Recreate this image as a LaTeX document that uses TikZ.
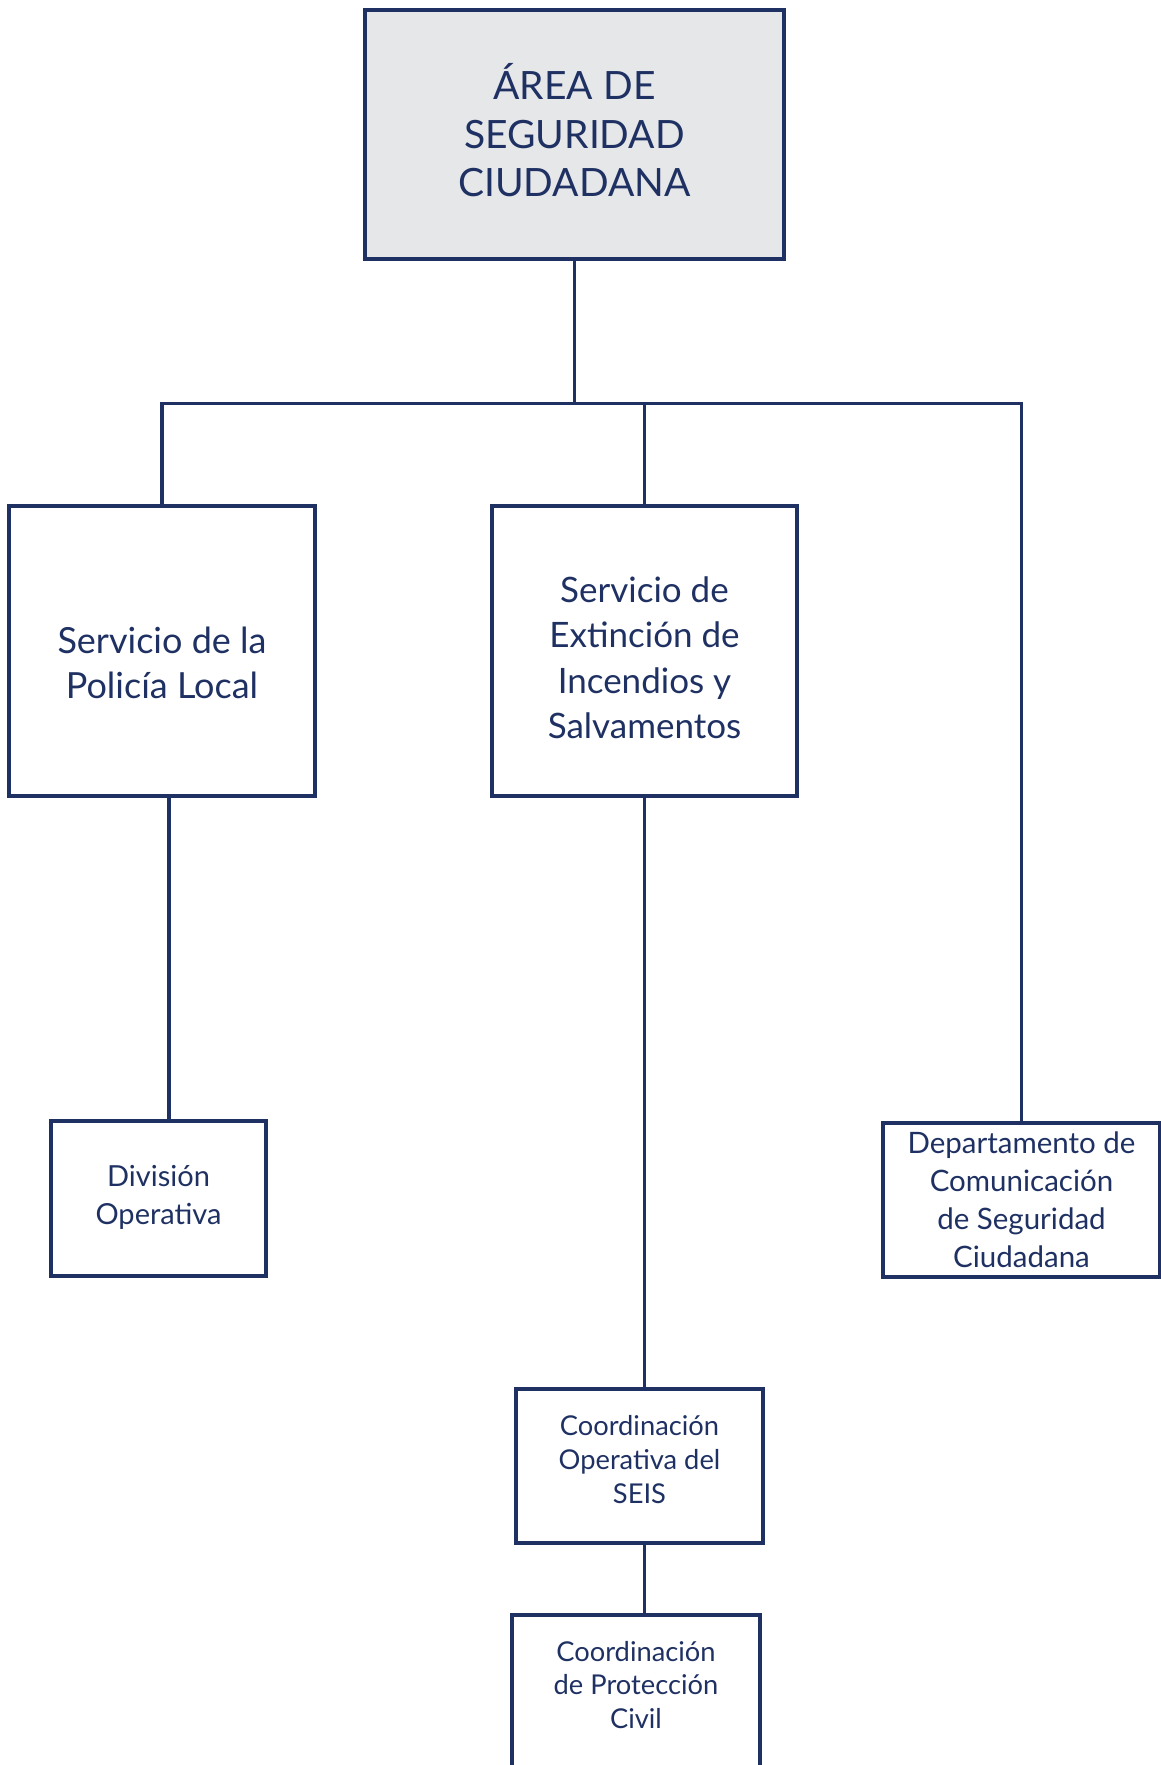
\documentclass[tikz,border=0pt]{standalone}
\usepackage{fontspec}
\setmainfont{Lato}
\usepackage{tikz}
\usetikzlibrary{positioning, calc}
\definecolor{NavyLine}{RGB}{31, 49, 99}
\definecolor{HeadGray}{RGB}{230, 231, 233}

\begin{document}
\begin{tikzpicture}[x=1pt, y=-1pt, line width=3.4pt,
    unitbox/.style={draw=NavyLine, rectangle, align=center, text=NavyLine, inner sep=0pt},
    conn/.style={draw=NavyLine, line width=3.4pt}]
    \useasboundingbox (0,0) rectangle (1161,1765);
    \clip (0,0) rectangle (1161,1765);

    % Head of area
    \node[unitbox, fill=HeadGray, minimum width=419pt, minimum height=249pt,
          text height=134.4pt, text depth=10pt,
          font=\fontsize{39}{48.7}\selectfont] (area) at (574.5,134.5) {ÁREA DE\\SEGURIDAD\\CIUDADANA};

    % Services
    \node[unitbox, minimum width=306pt, minimum height=290pt,
          text height=104pt, text depth=10pt,
          font=\fontsize{36}{45}\selectfont] (policia) at (162,651) {Servicio de la\\Policía Local};
    \node[unitbox, minimum width=305pt, minimum height=290pt,
          text height=185pt, text depth=10pt,
          font=\fontsize{35}{45.5}\selectfont] (extincion) at (644.5,651) {Servicio de\\Extinción de\\Incendios y\\Salvamentos};

    % Lower units
    \node[unitbox, minimum width=215pt, minimum height=155pt,
          text height=61.4pt, text depth=10pt,
          font=\fontsize{29}{37.5}\selectfont] (division) at (158.5,1198.5) {División\\Operativa};
    \node[unitbox, minimum width=277pt, minimum height=154pt,
          text height=143.6pt, text depth=9pt,
          font=\fontsize{29.5}{38}\selectfont] (dept) at (1021.5,1200) {Departamento de\\Comunicación\\de Seguridad\\Ciudadana};
    \node[unitbox, minimum width=247pt, minimum height=154pt,
          text height=84pt, text depth=10pt,
          font=\fontsize{27.3}{34}\selectfont] (coordop) at (639.5,1466) {Coordinación\\Operativa del\\SEIS};
    \node[unitbox, minimum width=248pt, minimum height=156pt,
          text height=80.8pt, text depth=10pt,
          font=\fontsize{27.3}{33.7}\selectfont] (proteccion) at (636,1693) {Coordinación\\de Protección\\Civil};

    % Bus under the head
    \coordinate (bus) at ($(area.south)+(0,143)$);
    \draw[conn] (area.south) -- (bus);
    \draw[conn] (policia.north) |- (bus) -| (dept.north);
    \draw[conn] (extincion.north) -- (extincion.north |- bus);

    % Branches down
    \draw[conn] ([xshift=7pt]policia.south) -- ([xshift=7pt]policia.south |- division.north);
    \draw[conn] (extincion.south) -- (extincion.south |- coordop.north);
    \draw[conn] (coordop.south -| extincion.south) -- (extincion.south |- proteccion.north);
\end{tikzpicture}
\end{document}
